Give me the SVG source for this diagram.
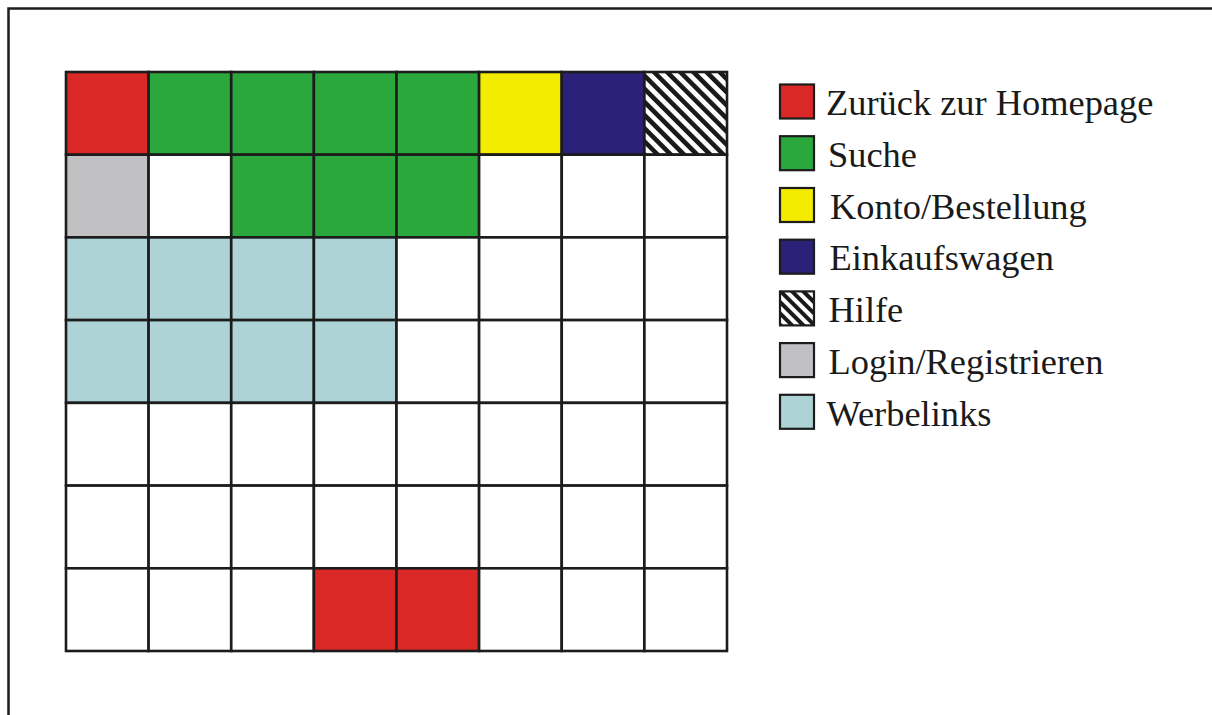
<svg xmlns="http://www.w3.org/2000/svg" width="1212" height="715" viewBox="0 0 1212 715">
<style>
.c{stroke:#1c1c1c;stroke-width:2.6}
.l{stroke:#1c1c1c;stroke-width:2.2}
.r{fill:#da2826}.g{fill:#2ba83c}.y{fill:#f3eb00}.b{fill:#2b2178}.h{fill:url(#hatch)}.s{fill:#c1c1c4}.w{fill:#add3d6}.n{fill:#ffffff}
text{font-family:"Liberation Serif","Times New Roman",serif;font-size:36.4px;fill:#1a1a1a}
</style>
<defs>
<pattern id="hatch" patternUnits="userSpaceOnUse" width="9.3" height="9.3" patternTransform="rotate(-45)">
<rect width="9.3" height="9.3" fill="#ffffff"/>
<rect width="4.6" height="9.3" fill="#1a1a1a"/>
</pattern>
<pattern id="hatch2" patternUnits="userSpaceOnUse" width="8" height="8" patternTransform="rotate(-45)">
<rect width="8" height="8" fill="#ffffff"/>
<rect width="4" height="8" fill="#1a1a1a"/>
</pattern>
</defs>
<rect width="1212" height="715" fill="#ffffff"/>
<path d="M8.5 715 V8.5 H1212" fill="none" stroke="#1c1c1c" stroke-width="2.5"/>
<g id="grid">
<g id="row0">
<rect class="c r" x="66" y="72" width="82.6" height="82.7"/>
<rect class="c g" x="148.6" y="72" width="82.6" height="82.7"/>
<rect class="c g" x="231.25" y="72" width="82.6" height="82.7"/>
<rect class="c g" x="313.9" y="72" width="82.6" height="82.7"/>
<rect class="c g" x="396.5" y="72" width="82.6" height="82.7"/>
<rect class="c y" x="479.1" y="72" width="82.6" height="82.7"/>
<rect class="c b" x="561.75" y="72" width="82.6" height="82.7"/>
<rect class="c h" x="644.4" y="72" width="82.6" height="82.7"/>
</g>
<g id="row1">
<rect class="c s" x="66" y="154.7" width="82.6" height="82.7"/>
<rect class="c n" x="148.6" y="154.7" width="82.6" height="82.7"/>
<rect class="c g" x="231.25" y="154.7" width="82.6" height="82.7"/>
<rect class="c g" x="313.9" y="154.7" width="82.6" height="82.7"/>
<rect class="c g" x="396.5" y="154.7" width="82.6" height="82.7"/>
<rect class="c n" x="479.1" y="154.7" width="82.6" height="82.7"/>
<rect class="c n" x="561.75" y="154.7" width="82.6" height="82.7"/>
<rect class="c n" x="644.4" y="154.7" width="82.6" height="82.7"/>
</g>
<g id="row2">
<rect class="c w" x="66" y="237.4" width="82.6" height="82.7"/>
<rect class="c w" x="148.6" y="237.4" width="82.6" height="82.7"/>
<rect class="c w" x="231.25" y="237.4" width="82.6" height="82.7"/>
<rect class="c w" x="313.9" y="237.4" width="82.6" height="82.7"/>
<rect class="c n" x="396.5" y="237.4" width="82.6" height="82.7"/>
<rect class="c n" x="479.1" y="237.4" width="82.6" height="82.7"/>
<rect class="c n" x="561.75" y="237.4" width="82.6" height="82.7"/>
<rect class="c n" x="644.4" y="237.4" width="82.6" height="82.7"/>
</g>
<g id="row3">
<rect class="c w" x="66" y="320.1" width="82.6" height="82.7"/>
<rect class="c w" x="148.6" y="320.1" width="82.6" height="82.7"/>
<rect class="c w" x="231.25" y="320.1" width="82.6" height="82.7"/>
<rect class="c w" x="313.9" y="320.1" width="82.6" height="82.7"/>
<rect class="c n" x="396.5" y="320.1" width="82.6" height="82.7"/>
<rect class="c n" x="479.1" y="320.1" width="82.6" height="82.7"/>
<rect class="c n" x="561.75" y="320.1" width="82.6" height="82.7"/>
<rect class="c n" x="644.4" y="320.1" width="82.6" height="82.7"/>
</g>
<g id="row4">
<rect class="c n" x="66" y="402.9" width="82.6" height="82.7"/>
<rect class="c n" x="148.6" y="402.9" width="82.6" height="82.7"/>
<rect class="c n" x="231.25" y="402.9" width="82.6" height="82.7"/>
<rect class="c n" x="313.9" y="402.9" width="82.6" height="82.7"/>
<rect class="c n" x="396.5" y="402.9" width="82.6" height="82.7"/>
<rect class="c n" x="479.1" y="402.9" width="82.6" height="82.7"/>
<rect class="c n" x="561.75" y="402.9" width="82.6" height="82.7"/>
<rect class="c n" x="644.4" y="402.9" width="82.6" height="82.7"/>
</g>
<g id="row5">
<rect class="c n" x="66" y="485.6" width="82.6" height="82.7"/>
<rect class="c n" x="148.6" y="485.6" width="82.6" height="82.7"/>
<rect class="c n" x="231.25" y="485.6" width="82.6" height="82.7"/>
<rect class="c n" x="313.9" y="485.6" width="82.6" height="82.7"/>
<rect class="c n" x="396.5" y="485.6" width="82.6" height="82.7"/>
<rect class="c n" x="479.1" y="485.6" width="82.6" height="82.7"/>
<rect class="c n" x="561.75" y="485.6" width="82.6" height="82.7"/>
<rect class="c n" x="644.4" y="485.6" width="82.6" height="82.7"/>
</g>
<g id="row6">
<rect class="c n" x="66" y="568.3" width="82.6" height="82.7"/>
<rect class="c n" x="148.6" y="568.3" width="82.6" height="82.7"/>
<rect class="c n" x="231.25" y="568.3" width="82.6" height="82.7"/>
<rect class="c r" x="313.9" y="568.3" width="82.6" height="82.7"/>
<rect class="c r" x="396.5" y="568.3" width="82.6" height="82.7"/>
<rect class="c n" x="479.1" y="568.3" width="82.6" height="82.7"/>
<rect class="c n" x="561.75" y="568.3" width="82.6" height="82.7"/>
<rect class="c n" x="644.4" y="568.3" width="82.6" height="82.7"/>
</g>
</g>
<g id="legend">
<g id="leg-home"><rect class="l r" x="780" y="84.5" width="34" height="34"/><text x="826" y="115">Zurück zur Homepage</text></g>
<g id="leg-suche"><rect class="l g" x="780" y="136.2" width="34" height="34"/><text x="828" y="167">Suche</text></g>
<g id="leg-konto"><rect class="l y" x="780" y="188" width="34" height="34"/><text x="830" y="218.5">Konto/Bestellung</text></g>
<g id="leg-wagen"><rect class="l b" x="780" y="239.7" width="34" height="34"/><text x="829.5" y="270">Einkaufswagen</text></g>
<g id="leg-hilfe"><rect class="l" fill="url(#hatch2)" x="780" y="291.4" width="34" height="34"/><text x="828.5" y="322">Hilfe</text></g>
<g id="leg-login"><rect class="l s" x="780" y="343.1" width="34" height="34"/><text x="828.5" y="374">Login/Registrieren</text></g>
<g id="leg-werbe"><rect class="l w" x="780" y="394.8" width="34" height="34"/><text x="826.5" y="425.5">Werbelinks</text></g>
</g>
</svg>
